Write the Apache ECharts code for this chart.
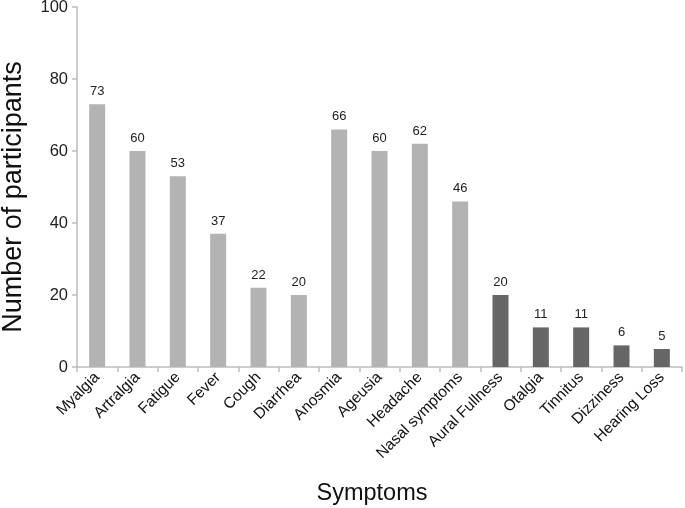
<!DOCTYPE html>
<html><head><meta charset="utf-8">
<script src="https://cdn.jsdelivr.net/npm/echarts@6/dist/echarts.min.js"></script>
<style>html,body{margin:0;padding:0;background:#fff}#c{width:685px;height:508px}</style>
</head><body><div id="c"></div>
<script>
const categories = ["Myalgia","Artralgia","Fatigue","Fever","Cough","Diarrhea","Anosmia","Ageusia","Headache","Nasal symptoms","Aural Fullness","Otalgia","Tinnitus","Dizziness","Hearing Loss"];
const values = [73,60,53,37,22,20,66,60,62,46,20,11,11,6,5];
const groups = ["general","general","general","general","general","general","general","general","general","general","ear","ear","ear","ear","ear"];
const yTicks = [0,20,40,60,80,100];
const groupColors = {general:"#b3b3b3", ear:"#666666"};
const font = "'Liberation Sans', Arial, sans-serif";
const chart = echarts.init(document.getElementById('c'), null, {renderer:'canvas'});
chart.setOption({
  animation:false,
  grid:{left:77,right:3,top:7,bottom:141,containLabel:false,outerBoundsMode:'none'},
  xAxis:{type:'category',data:categories,
    name:'Symptoms',nameLocation:'middle',nameGap:115,
    nameTextStyle:{fontSize:23.5,color:'#111',fontFamily:font,padding:[0,15,0,0]},
    axisLine:{lineStyle:{color:'#bdbdbd',width:1.5}},
    axisTick:{show:true,alignWithLabel:false,length:5,lineStyle:{color:'#bdbdbd',width:1.5}},
    axisLabel:{rotate:45,fontSize:15.5,color:'#111',fontFamily:font,interval:0,margin:8}},
  yAxis:{type:'value',min:yTicks[0],max:yTicks[yTicks.length-1],interval:20,
    name:'Number of participants',nameLocation:'middle',nameGap:50,
    nameTextStyle:{fontSize:27,color:'#111',fontFamily:font,padding:[0,20,0,0]},
    axisLine:{show:true,lineStyle:{color:'#bdbdbd',width:1.5}},
    axisTick:{show:true,length:5,lineStyle:{color:'#bdbdbd',width:1.5}},
    splitLine:{show:false},
    axisLabel:{fontSize:16.5,color:'#222',fontFamily:font,margin:9}},
  series:[{type:'bar',barWidth:16,
    data:values.map((v,i)=>({value:v,itemStyle:{color:groupColors[groups[i]]}})),
    label:{show:true,position:'top',fontSize:13,color:'#222',fontFamily:font,distance:6}}]
});
</script></body></html>
